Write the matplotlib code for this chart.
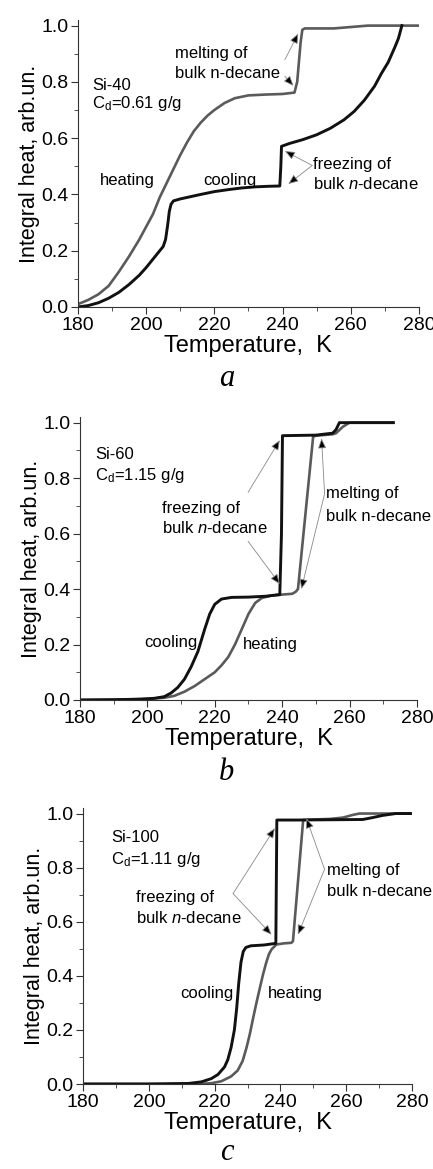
import matplotlib
matplotlib.use("Agg")
import matplotlib.pyplot as plt
from matplotlib.ticker import MultipleLocator

plt.rcParams["font.family"] = ["Liberation Sans", "DejaVu Sans"]
plt.rcParams["mathtext.fontset"] = "custom"
plt.rcParams["mathtext.rm"] = "Liberation Sans"
plt.rcParams["mathtext.it"] = "Liberation Sans:italic"

# panel a: Si-40
heat_a_T = [180, 183, 186, 189, 192, 195, 198, 200, 202, 204, 206, 208, 210, 212, 214, 216, 218, 220,
            223, 226, 230, 235, 240, 243.5, 244.3, 244.8, 245.3, 245.8, 246.5, 250, 255, 260, 265, 280]
heat_a_y = [0.01, 0.025, 0.045, 0.075, 0.125, 0.18, 0.24, 0.285, 0.33, 0.39, 0.44, 0.49, 0.54, 0.585,
            0.625, 0.655, 0.68, 0.70, 0.725, 0.742, 0.752, 0.755, 0.757, 0.762, 0.80, 0.87, 0.94, 0.985,
            0.99, 0.99, 0.99, 0.995, 1.0, 1.0]
cool_a_T = [180, 183, 186, 189, 192, 195, 198, 200, 202, 204, 205, 205.7, 206.3, 206.8, 207.3, 208, 210,
            213, 216, 220, 224, 228, 232, 236, 239.2, 239.5, 239.7, 242, 246, 250, 254, 258, 261, 264,
            267, 269, 271, 273, 274, 275]
cool_a_y = [0.0, 0.005, 0.015, 0.031, 0.052, 0.08, 0.113, 0.14, 0.17, 0.2, 0.215, 0.24, 0.29, 0.34, 0.365,
            0.377, 0.384, 0.392, 0.4, 0.41, 0.417, 0.423, 0.427, 0.429, 0.43, 0.5, 0.571, 0.581, 0.595,
            0.612, 0.635, 0.665, 0.695, 0.735, 0.785, 0.83, 0.87, 0.925, 0.955, 1.0]

# panel b: Si-60
heat_b_T = [180, 190, 200, 205, 208, 211, 214, 217, 220, 222, 224, 226, 228, 230, 232, 234, 237, 240,
            243, 244, 244.7, 249.2, 250, 255, 256, 258, 260, 273]
heat_b_y = [0, 0.001, 0.004, 0.008, 0.015, 0.03, 0.05, 0.075, 0.1, 0.125, 0.155, 0.2, 0.255, 0.31, 0.35,
            0.368, 0.377, 0.38, 0.383, 0.39, 0.40, 0.949, 0.953, 0.958, 0.962, 0.985, 1.0, 1.0]
cool_b_T = [180, 190, 198, 202, 205, 207, 209, 211, 213, 215, 217, 218.5, 220, 222, 225, 230, 235, 239.3,
            239.8, 240.1, 245, 250, 255, 256, 257, 265, 273]
cool_b_y = [0, 0.001, 0.003, 0.006, 0.012, 0.025, 0.045, 0.075, 0.12, 0.175, 0.255, 0.31, 0.345, 0.364,
            0.37, 0.371, 0.374, 0.38, 0.6, 0.953, 0.954, 0.955, 0.962, 0.975, 1.0, 1.0, 1.0]

# panel c: Si-100
heat_c_T = [180, 215, 219, 222, 225, 227, 228.5, 229.7, 230.7, 231.7, 232.7, 233.7, 234.7, 235.7, 236.5,
            237.3, 238.8, 241, 243.3, 243.8, 246.9, 250, 255, 259, 262, 264, 279.5]
heat_c_y = [0, 0.0, 0.003, 0.01, 0.028, 0.05, 0.085, 0.135, 0.185, 0.244, 0.3, 0.353, 0.405, 0.45, 0.48,
            0.498, 0.516, 0.52, 0.522, 0.528, 0.976, 0.978, 0.98, 0.985, 0.995, 1.0, 1.0]
cool_c_T = [180, 200, 212, 216, 219, 221, 223, 224, 225, 226, 226.7, 227.3, 228, 228.7, 229.5, 231, 235,
            238.6, 238.9, 245, 255, 265, 268, 271, 275, 279.5]
cool_c_y = [0, 0.0, 0.002, 0.008, 0.02, 0.035, 0.063, 0.09, 0.135, 0.2, 0.28, 0.37, 0.45, 0.49, 0.505,
            0.511, 0.514, 0.52, 0.976, 0.976, 0.977, 0.978, 0.985, 0.993, 1.0, 1.0]

heat_col = "#5a5a5a"
cool_col = "#111111"
fs_ann = 12


def arrow(ax, tail, tip):
    ax.annotate("", xy=tip, xytext=tail,
                arrowprops=dict(arrowstyle="-|>,head_length=0.6,head_width=0.25", lw=0.6,
                                ec="#888888", fc="black", shrinkA=0, shrinkB=0))


def setup(ax):
    ax.set_xlim(180, 280)
    ax.set_ylim(0, 1.02)
    ax.spines["top"].set_visible(False)
    ax.spines["right"].set_visible(False)
    ax.spines["left"].set_color("#333333")
    ax.spines["bottom"].set_color("#333333")
    ax.xaxis.set_major_locator(MultipleLocator(20))
    ax.xaxis.set_minor_locator(MultipleLocator(10))
    ax.yaxis.set_minor_locator(MultipleLocator(0.1))
    ax.set_yticks([0, 0.2, 0.4, 0.6, 0.8, 1.0])
    ax.set_yticklabels(["0.0", "0.2", "0.4", "0.6", "0.8", "1.0"])
    ax.tick_params(which="major", direction="out", length=5, labelsize=14, pad=2, color="#333333")
    ax.tick_params(which="minor", direction="out", length=3, color="#333333")
    ax.set_xlabel("Temperature,  K", fontsize=17, labelpad=1)
    ax.set_ylabel("Integral heat, arb.un.", fontsize=15.5, labelpad=1)


fig = plt.figure(figsize=(4.33, 11.69), dpi=100)

# ---- a ----
ax = fig.add_axes([0.180, 0.7374, 0.7875, 0.2455])
ax.plot(heat_a_T, heat_a_y, color=heat_col, lw=1.9)
ax.plot(cool_a_T, cool_a_y, color=cool_col, lw=2.1)
setup(ax)
ax.text(184.1, 0.786, "Si-40", fontsize=fs_ann, va="center")
ax.text(184.1, 0.722, "C$_\\mathregular{d}$=0.61 g/g", fontsize=fs_ann, va="center")
ax.text(208.5, 0.90, "melting of", fontsize=fs_ann, va="center")
ax.text(208.5, 0.83, "bulk n-decane", fontsize=fs_ann, va="center")
arrow(ax, (240.7, 0.879), (244.6, 0.972))
arrow(ax, (240.7, 0.82), (243.2, 0.786))
ax.text(194.6, 0.449, "heating", fontsize=fs_ann, ha="center", va="center")
ax.text(224.6, 0.45, "cooling", fontsize=fs_ann, ha="center", va="center")
ax.text(249.0, 0.507, "freezing of", fontsize=fs_ann, va="center")
ax.text(249.0, 0.437, "bulk $\\mathit{n}$-decane", fontsize=fs_ann, va="center")
arrow(ax, (248.7, 0.503), (240.7, 0.554))
arrow(ax, (248.7, 0.503), (241.7, 0.437))
fig.text(226.7 / 433, 1 - 378 / 1169, "a", fontsize=22, family="Liberation Serif", style="italic",
         ha="center", va="center")

# ---- b ----
ax = fig.add_axes([0.1848, 0.4012, 0.778, 0.242])
ax.plot(heat_b_T, heat_b_y, color=heat_col, lw=1.9)
ax.plot(cool_b_T, cool_b_y, color=cool_col, lw=2.1)
setup(ax)
ax.text(184.4, 0.884, "Si-60", fontsize=fs_ann, va="center")
ax.text(184.4, 0.808, "C$_\\mathregular{d}$=1.15 g/g", fontsize=fs_ann, va="center")
ax.text(204.4, 0.69, "freezing of", fontsize=fs_ann, va="center")
ax.text(204.4, 0.62, "bulk $\\mathit{n}$-decane", fontsize=fs_ann, va="center")
arrow(ax, (229.9, 0.749), (239.3, 0.937))
arrow(ax, (229.9, 0.572), (239.3, 0.418))
ax.text(252.9, 0.743, "melting of", fontsize=fs_ann, va="center", clip_on=False)
ax.text(252.9, 0.663, "bulk n-decane", fontsize=fs_ann, va="center", clip_on=False)
arrow(ax, (252.6, 0.743), (251.7, 0.943))
arrow(ax, (252.6, 0.743), (245.7, 0.40))
ax.text(207.1, 0.206, "cooling", fontsize=fs_ann, ha="center", va="center")
ax.text(236.5, 0.20, "heating", fontsize=fs_ann, ha="center", va="center")
fig.text(226.7 / 433, 1 - 773 / 1169, "b", fontsize=22, family="Liberation Serif", style="italic",
         ha="center", va="center")

# ---- c ----
ax = fig.add_axes([0.1917, 0.0727, 0.760, 0.236])
ax.plot(heat_c_T, heat_c_y, color=heat_col, lw=1.9)
ax.plot(cool_c_T, cool_c_y, color=cool_col, lw=2.1)
setup(ax)
ax.text(188.6, 0.912, "Si-100", fontsize=fs_ann, va="center")
ax.text(188.6, 0.83, "C$_\\mathregular{d}$=1.11 g/g", fontsize=fs_ann, va="center")
ax.text(196.2, 0.688, "freezing of", fontsize=fs_ann, va="center")
ax.text(196.2, 0.613, "bulk $\\mathit{n}$-decane", fontsize=fs_ann, va="center")
arrow(ax, (225.6, 0.704), (238.3, 0.946))
arrow(ax, (225.6, 0.704), (237.3, 0.552))
ax.text(254.2, 0.788, "melting of", fontsize=fs_ann, va="center", clip_on=False)
ax.text(254.2, 0.712, "bulk n-decane", fontsize=fs_ann, va="center", clip_on=False)
arrow(ax, (253.4, 0.794), (247.9, 0.982))
arrow(ax, (253.4, 0.794), (245.3, 0.552))
ax.text(217.7, 0.335, "cooling", fontsize=fs_ann, ha="center", va="center")
ax.text(244.5, 0.333, "heating", fontsize=fs_ann, ha="center", va="center")
fig.text(226.7 / 433, 1 - 1153 / 1169, "c", fontsize=22, family="Liberation Serif", style="italic",
         ha="center", va="center")

fig.savefig("out.png", dpi=100)
